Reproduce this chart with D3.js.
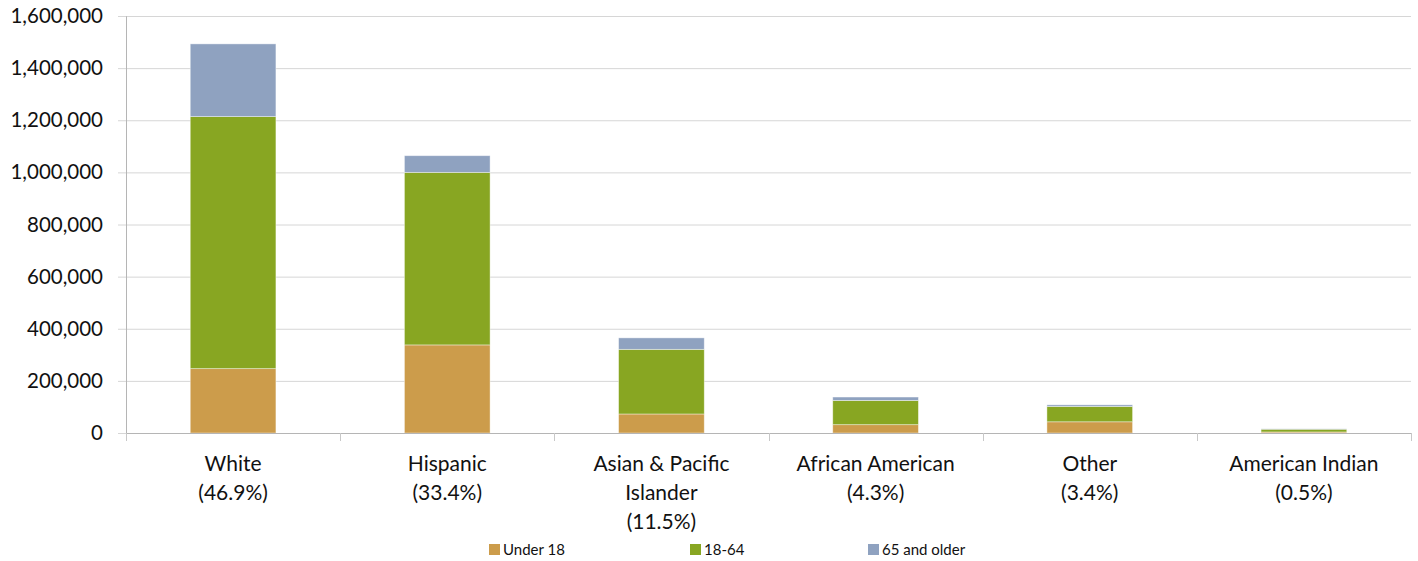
<!DOCTYPE html>
<html>
<head>
<meta charset="utf-8">
<script src="https://cdn.jsdelivr.net/npm/d3@7"></script>
<style>
  body { margin: 0; background: #fff; }
  text { font-family: Lato, "Open Sans", sans-serif; fill: #111; }
</style>
</head>
<body>
<div id="chart"></div>
<script>
// data
const categories = [
  ['White', '(46.9%)'],
  ['Hispanic', '(33.4%)'],
  ['Asian & Pacific', 'Islander', '(11.5%)'],
  ['African American', '(4.3%)'],
  ['Other', '(3.4%)'],
  ['American Indian', '(0.5%)']
]
const seriesNames = ['Under 18', '18-64', '65 and older']
const under18 = [247000, 338000, 73000, 32000, 43000, 4000]
const age18to64 = [967000, 662000, 248000, 93000, 59000, 10500]
const over65 = [279000, 64000, 44000, 13000, 6000, 1400]
const yTicks = [0, 200000, 400000, 600000, 800000, 1000000, 1200000, 1400000, 1600000]

const colors = ['#cc9c4b', '#88a622', '#8fa2c0']

const width = 1418, height = 561
const margin = {top: 16, right: 7, bottom: 128, left: 126}
const innerW = width - margin.left - margin.right
const innerH = height - margin.top - margin.bottom

const svg = d3.select('#chart').append('svg')
    .attr('width', width)
    .attr('height', height)

const g = svg.append('g')
    .attr('transform', `translate(${margin.left},${margin.top})`)

const keys = categories.map((d, i) => i)
const table = keys.map(i => ({idx: i, 'Under 18': under18[i], '18-64': age18to64[i], '65 and older': over65[i]}))
const stacked = d3.stack().keys(seriesNames)(table)

const x = d3.scaleBand().domain(keys).range([0, innerW]).paddingInner(0.6).paddingOuter(0.3)
const xOuter = d3.scaleBand().domain(keys).range([0, innerW])
const y = d3.scaleLinear().domain([0, 1600000]).range([innerH, 0])

// gridlines
g.append('g')
    .selectAll('line')
    .data(yTicks.slice(1))
    .join('line')
    .attr('x1', 0)
    .attr('x2', innerW)
    .attr('y1', d => y(d) + 0.5)
    .attr('y2', d => y(d) + 0.5)
    .attr('stroke', '#d6d6d6')
    .attr('stroke-width', 1)

// y axis
const yAxis = g.append('g')
    .call(d3.axisLeft(y).tickValues(yTicks).tickSize(8).tickPadding(15).tickFormat(d3.format(',')))
yAxis.select('.domain').attr('stroke', '#b5b5b5')
yAxis.selectAll('.tick line').attr('stroke', '#d6d6d6')
yAxis.selectAll('.tick text')
    .style('font-size', '20.5px')
    .attr('fill', '#111')

// bars
g.append('g')
    .selectAll('g')
    .data(stacked)
    .join('g')
    .attr('fill', (d, i) => colors[i])
    .selectAll('rect')
    .data(d => d)
    .join('rect')
    .attr('x', d => x(d.data.idx))
    .attr('width', x.bandwidth())
    .attr('y', d => y(d[1]))
    .attr('height', d => y(d[0]) - y(d[1]))
    .attr('stroke', '#ffffff')
    .attr('stroke-opacity', 0.5)
    .attr('stroke-width', 0.8)

// x axis line and band ticks
const xa = g.append('g').attr('transform', `translate(0,${innerH})`)
xa.append('line')
    .attr('x1', 0).attr('x2', innerW)
    .attr('y1', 0.5).attr('y2', 0.5)
    .attr('stroke', '#b5b5b5')
const bounds = keys.map(k => xOuter(k)).concat([innerW])
xa.selectAll('.xtick')
    .data(bounds)
    .join('line')
    .attr('class', 'xtick')
    .attr('x1', d => Math.round(d) + 0.5)
    .attr('x2', d => Math.round(d) + 0.5)
    .attr('y1', 0)
    .attr('y2', 8)
    .attr('stroke', '#c8c8c8')

// category labels
xa.selectAll('.xlabel')
    .data(keys)
    .join('text')
    .attr('class', 'xlabel')
    .attr('text-anchor', 'middle')
    .style('font-size', '21px')
    .attr('transform', d => `translate(${xOuter(d) + xOuter.bandwidth() / 2},38)`)
    .selectAll('tspan')
    .data(d => categories[d])
    .join('tspan')
    .attr('x', 0)
    .attr('y', (d, i) => i * 29)
    .text(d => d)

// legend
const legendX = [489, 690, 868]
const legend = svg.append('g')
    .selectAll('g')
    .data(seriesNames)
    .join('g')
    .attr('transform', (d, i) => `translate(${legendX[i]},544)`)
legend.append('rect')
    .attr('width', 11)
    .attr('height', 11)
    .attr('fill', (d, i) => colors[i])
legend.append('text')
    .attr('x', 14)
    .attr('y', 11)
    .style('font-size', '15px')
    .text(d => d)
</script>
</body>
</html>
